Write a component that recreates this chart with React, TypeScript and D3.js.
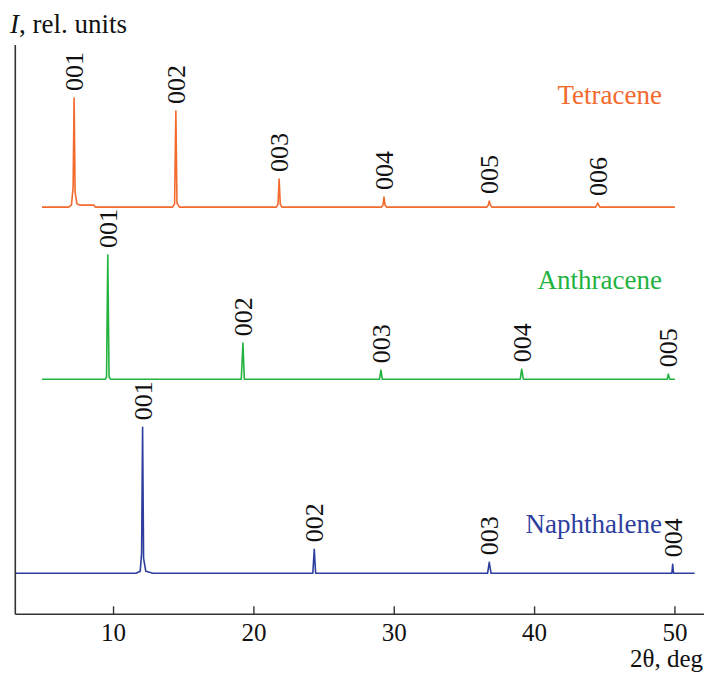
import React from "react";
import * as d3 from "d3";

const xTicks = [10, 20, 30, 40, 50];

const tetracenePoints: [number, number][] = [
  [4.9, 0], [6.8, 0], [7.0, 2], [7.12, 20], [7.19, 109], [7.26, 15], [7.4, 3], [7.6, 2], [8.6, 2], [8.7, 0],
  [14.2, 0], [14.35, 3], [14.44, 96], [14.52, 4], [14.7, 0],
  [21.6, 0], [21.72, 3], [21.8, 28], [21.88, 3], [22.0, 0],
  [29.1, 0], [29.2, 2], [29.27, 10], [29.34, 2], [29.45, 0],
  [36.6, 0], [36.7, 2], [36.77, 6], [36.85, 2], [36.95, 0],
  [44.35, 0], [44.5, 4], [44.65, 0], [50.0, 0],
];
const anthracenePoints: [number, number][] = [
  [4.9, 0], [9.4, 0], [9.5, 2], [9.59, 124], [9.68, 2], [9.8, 0],
  [19.1, 0], [19.22, 36], [19.32, 0],
  [28.95, 0], [29.05, 9], [29.15, 0],
  [38.98, 0], [39.08, 10], [39.2, 0],
  [49.45, 0], [49.53, 5], [49.62, 0], [50.0, 0],
];
const naphthalenePoints: [number, number][] = [
  [3.0, 0], [11.6, 0], [11.9, 2], [12.0, 20], [12.07, 146], [12.14, 15], [12.3, 2], [12.8, 0],
  [24.2, 0], [24.3, 24], [24.4, 0],
  [36.65, 0], [36.77, 11], [36.9, 0],
  [49.78, 0], [49.84, 9], [49.9, 0], [51.4, 0],
];

const tetraceneLabels: [string, number][] = [
  ["001", 7.19], ["002", 14.44], ["003", 21.8], ["004", 29.27], ["005", 36.77], ["006", 44.5],
];
const anthraceneLabels: [string, number][] = [
  ["001", 9.59], ["002", 19.22], ["003", 29.05], ["004", 39.08], ["005", 49.53],
];
const naphthaleneLabels: [string, number][] = [
  ["001", 12.07], ["002", 24.3], ["003", 36.77], ["004", 49.84],
];

const seriesNames = ["Tetracene", "Anthracene", "Naphthalene"];
const seriesOffsets = [407, 235, 41];

const W = 704;
const H = 673;
const FONT = "Liberation Serif";
const colors = ["#f26a2c", "#22b33f", "#2e3e9e"];

export default function App() {
  const x = d3.scaleLinear().domain([3, 52]).range([15.3, 703]);
  const y = d3.scaleLinear().domain([0, 569]).range([614.3, 45]);
  const series = [
    { pts: tetracenePoints, labels: tetraceneLabels },
    { pts: anthracenePoints, labels: anthraceneLabels },
    { pts: naphthalenePoints, labels: naphthaleneLabels },
  ];
  const nameY = [104, 289, 533];
  const axisColor = "#333";
  const ts = { fontFamily: FONT };
  return (
    <svg width={W} height={H} style={{ position: "absolute", left: 0, top: 0 }}>
      <rect width={W} height={H} fill="#fff" />
      {series.map((s, i) => {
        const off = seriesOffsets[i];
        const line = d3
          .line<[number, number]>()
          .x((d) => x(d[0]))
          .y((d) => y(d[1] + off));
        return (
          <g key={i}>
            <path d={line(s.pts) || ""} fill="none" stroke={colors[i]} strokeWidth={1.6} strokeLinejoin="round" />
            {s.labels.map(([lab, pos]) => {
              const top = d3.max(s.pts.filter((p) => Math.abs(p[0] - pos) < 0.3), (p) => p[1]) || 0;
              const px = x(pos);
              const py = y(top + off) - 7;
              return (
                <text
                  key={lab}
                  transform={`translate(${px + 9},${py}) rotate(-90)`}
                  fontSize={26}
                  fill="#111"
                  textAnchor="start"
                  style={ts}
                >
                  {lab}
                </text>
              );
            })}
            <text x={662} y={nameY[i]} textAnchor="end" fontSize={27} fill={colors[i]} style={ts}>
              {seriesNames[i]}
            </text>
          </g>
        );
      })}
      <line x1={x(3)} x2={x(3)} y1={y(569)} y2={y(0)} stroke={axisColor} strokeWidth={1.6} />
      <line x1={x(3)} x2={W} y1={y(0)} y2={y(0)} stroke={axisColor} strokeWidth={1.6} />
      {xTicks.map((t) => (
        <g key={t}>
          <line x1={x(t)} x2={x(t)} y1={y(0)} y2={y(0) - 8} stroke={axisColor} strokeWidth={1.4} />
          <text x={x(t)} y={641} textAnchor="middle" fontSize={25} fill="#111" style={ts}>
            {t}
          </text>
        </g>
      ))}
      <text x={703} y={667} textAnchor="end" fontSize={25} fill="#111" style={ts}>
        2θ, deg
      </text>
      <text x={10} y={33} fontSize={27} fill="#111" style={ts}>
        <tspan fontStyle="italic">I</tspan>, rel. units
      </text>
    </svg>
  );
}
